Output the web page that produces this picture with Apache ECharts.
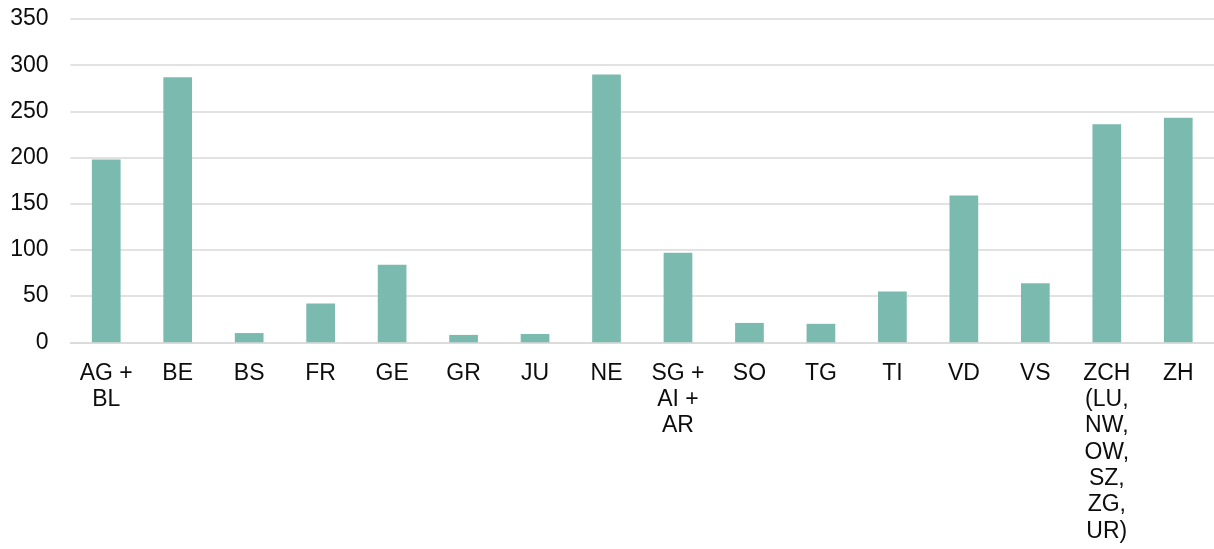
<!DOCTYPE html>
<html>
<head>
<meta charset="utf-8">
<script src="https://cdn.jsdelivr.net/npm/echarts@6/dist/echarts.min.js"></script>
<style>
  html, body { margin: 0; padding: 0; background: #fff; }
  #chart { width: 1214px; height: 549px; }
</style>
</head>
<body>
<div id="chart"></div>
<script>
// Regions (cantons and groups of cantons)
const categories = [
  'AG +\nBL', 'BE', 'BS', 'FR', 'GE', 'GR', 'JU', 'NE',
  'SG +\nAI +\nAR', 'SO', 'TG', 'TI', 'VD', 'VS',
  'ZCH\n(LU,\nNW,\nOW,\nSZ,\nZG,\nUR)', 'ZH'
];
const values = [198, 287, 10, 42, 84, 8, 9, 290, 97, 21, 20, 55, 159, 64, 236, 243];

// Value axis ticks
const yMin = 0;
const yMax = 350;
const yStep = 50;

const chart = echarts.init(document.getElementById('chart'), null, { renderer: 'canvas' });
const fontFamily = 'Liberation Sans, Arial, sans-serif';

chart.setOption({
  animation: false,
  grid: { left: 70.5, top: 19, width: 1147.5, bottom: 206.7, containLabel: false },
  xAxis: {
    type: 'category',
    data: categories,
    axisLine: { show: true, lineStyle: { color: '#d9d9d9', width: 1.5 } },
    axisTick: { show: false },
    axisLabel: {
      interval: 0,
      color: '#0d0d0d',
      fontFamily: fontFamily,
      fontSize: 23,
      lineHeight: 26.3,
      margin: 18
    }
  },
  yAxis: {
    type: 'value',
    min: yMin,
    max: yMax,
    interval: yStep,
    axisLine: { show: false },
    axisTick: { show: false },
    splitLine: { lineStyle: { color: '#d9d9d9', width: 1.5 } },
    axisLabel: {
      color: '#0d0d0d',
      fontFamily: fontFamily,
      fontSize: 23,
      margin: 22
    }
  },
  series: [{
    type: 'bar',
    data: values,
    barWidth: 28.7,
    itemStyle: { color: '#7bbaaf' }
  }]
});
</script>
</body>
</html>
